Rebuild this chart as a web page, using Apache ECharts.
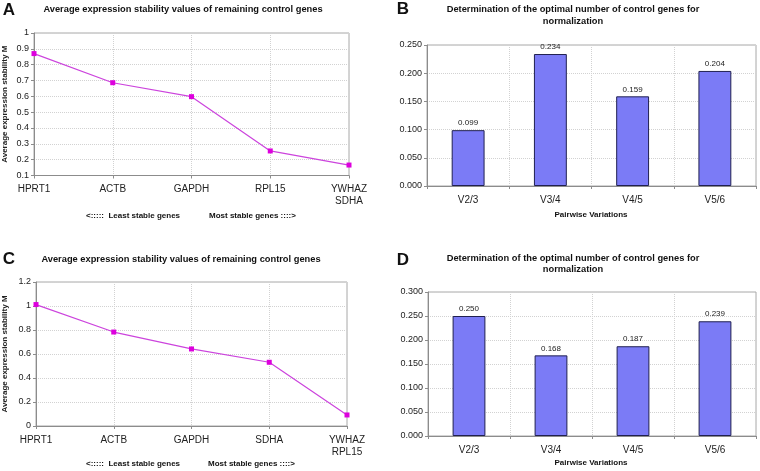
<!DOCTYPE html>
<html><head><meta charset="utf-8">
<script src="https://cdn.jsdelivr.net/npm/echarts@6/dist/echarts.min.js"></script>
<style>html,body{margin:0;padding:0;background:#fff}#c{width:760px;height:471px}</style>
</head><body><div id="c"></div>
<script>
const geneCatsA = ['HPRT1','ACTB','GAPDH','RPL15','YWHAZ\nSDHA'];
const stabilityA = [0.870, 0.686, 0.598, 0.255, 0.166];
const geneCatsC = ['HPRT1','ACTB','GAPDH','SDHA','YWHAZ\nRPL15'];
const stabilityC = [1.012, 0.783, 0.642, 0.531, 0.092];
const pairCats = ['V2/3','V3/4','V4/5','V5/6'];
const pairwiseB = [0.099, 0.234, 0.159, 0.204];
const pairwiseD = [0.250, 0.168, 0.187, 0.239];

const F = '"Liberation Sans Narrow","Liberation Sans",Arial,sans-serif';
const chart = echarts.init(document.getElementById('c'), null, {renderer:'canvas'});

const gridLine = {show:true, lineStyle:{color:'#d2d2d2', type:[1,1], width:1}};
const axisLine = {show:true, lineStyle:{color:'#8c8c8c', width:1}};
const axisTick = {show:true, length:3, lineStyle:{color:'#8c8c8c'}};

function catAxis(idx, data, gap){
  return {type:'category', gridIndex:idx, data:data, boundaryGap:gap,
    axisLine:axisLine, axisTick:Object.assign({}, axisTick, {inside:false}),
    splitLine:gridLine,
    axisLabel:{fontFamily:F, fontSize:10, color:'#222', margin:8, lineHeight:12, interval:0}};
}
function valAxis(idx, min, max, interval, digits, nameTxt, nameGap){
  const a = {type:'value', gridIndex:idx, min:min, max:max, interval:interval,
    axisLine:axisLine, axisTick:axisTick, splitLine:gridLine,
    axisLabel:{fontFamily:F, fontSize:9, color:'#222', margin:5,
      formatter: v => digits < 0 ? String(+(+v).toFixed(1)) : (+v).toFixed(digits)}};
  if (nameTxt){
    a.name = nameTxt; a.nameLocation='middle'; a.nameGap=nameGap; a.nameRotate=90;
    a.nameTextStyle={fontFamily:F, fontSize:8, fontWeight:'bold', color:'#222'};
  }
  return a;
}
function txt(x, y, s, opts){
  return {type:'text', x:x, y:y, silent:true, style:Object.assign({text:s, fontFamily:F, fontSize:9.3,
    fontWeight:'bold', fill:'#111', textAlign:'center', textVerticalAlign:'middle'}, opts||{})};
}
const letterFont = '"Liberation Sans",Arial,sans-serif';

const lineSeries = (idx, data) => ({type:'line', xAxisIndex:idx, yAxisIndex:idx, data:data,
  symbol:'rect', symbolSize:5, lineStyle:{color:'#cc44dd', width:1.2},
  itemStyle:{color:'#dd00dd'}, silent:true, animation:false});
const barSeries = (idx, data) => ({type:'bar', xAxisIndex:idx, yAxisIndex:idx, data:data,
  barWidth:'40%', itemStyle:{color:'#7b7bf6', borderColor:'#202050', borderWidth:1},
  label:{show:true, position:'top', distance:3, fontFamily:F, fontSize:8, color:'#222',
    formatter: p => (+p.value).toFixed(3)}, silent:true, animation:false});

chart.setOption({
  animation:false,
  grid:[
    {left:32, top:33, width:317, height:142.5, show:true, borderColor:'#a8a8a8', borderWidth:1, backgroundColor:'#fff'},
    {left:427, top:45, width:329, height:141, show:true, borderColor:'#a8a8a8', borderWidth:1, backgroundColor:'#fff'},
    {left:33, top:282, width:314, height:144, show:true, borderColor:'#a8a8a8', borderWidth:1, backgroundColor:'#fff'},
    {left:428, top:292, width:328, height:144, show:true, borderColor:'#a8a8a8', borderWidth:1, backgroundColor:'#fff'}
  ],
  xAxis:[catAxis(0, geneCatsA, false), catAxis(1, pairCats, true), catAxis(2, geneCatsC, false), catAxis(3, pairCats, true)],
  yAxis:[
    valAxis(0, 0.1, 1, 0.1, -1, 'Average expression stability M', 25),
    valAxis(1, 0, 0.25, 0.05, 3),
    valAxis(2, 0, 1.2, 0.2, -1, 'Average expression stability M', 27),
    valAxis(3, 0, 0.3, 0.05, 3)
  ],
  series:[lineSeries(0, stabilityA), barSeries(1, pairwiseB), lineSeries(2, stabilityC), barSeries(3, pairwiseD)],
  graphic:[
    txt(9, 10, 'A', {fontFamily:letterFont, fontSize:17}),
    txt(403, 9, 'B', {fontFamily:letterFont, fontSize:17}),
    txt(9, 259, 'C', {fontFamily:letterFont, fontSize:17}),
    txt(403, 260, 'D', {fontFamily:letterFont, fontSize:17}),
    txt(183, 9, 'Average expression stability values of remaining control genes'),
    txt(181, 259, 'Average expression stability values of remaining control genes'),
    txt(573, 9.5, 'Determination of the optimal number of control genes for'),
    txt(573, 21.5, 'normalization'),
    txt(573, 258.5, 'Determination of the optimal number of control genes for'),
    txt(573, 269.5, 'normalization'),
    txt(86, 216, '<:::::  Least stable genes', {textAlign:'left', fontSize:8}),
    txt(209, 216, 'Most stable genes ::::>', {textAlign:'left', fontSize:8}),
    txt(86, 464, '<:::::  Least stable genes', {textAlign:'left', fontSize:8}),
    txt(208, 464, 'Most stable genes ::::>', {textAlign:'left', fontSize:8}),
    txt(591, 214.5, 'Pairwise Variations', {fontSize:8}),
    txt(591, 462.5, 'Pairwise Variations', {fontSize:8})
  ]
});
</script></body></html>
